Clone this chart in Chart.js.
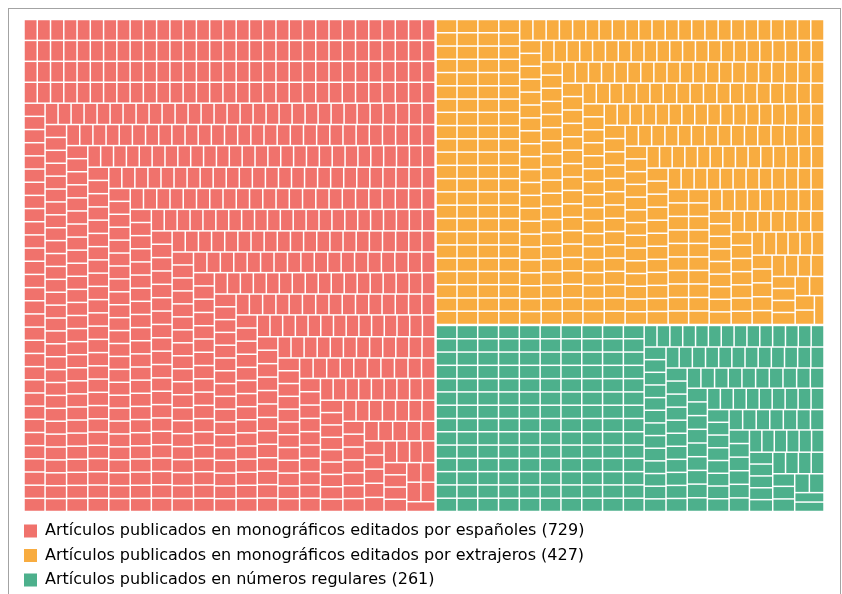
<!DOCTYPE html>
<html>
<head>
<meta charset="utf-8">
<script src="https://cdn.jsdelivr.net/npm/chart.js@4"></script>
<style>
  html, body { margin: 0; padding: 0; background: #fff; overflow: hidden; }
  #chart { position: absolute; left: 0; top: 0; }
  .frame { position: absolute; left: 8px; top: 8px; width: 831px; height: 700px; border: 1px solid #a3a3a3; pointer-events: none; }
</style>
</head>
<body>
<canvas id="chart" width="842" height="598"></canvas>
<div class="frame"></div>
<script>
const categories = [
  "Artículos publicados en monográficos editados por españoles",
  "Artículos publicados en monográficos editados por extrajeros",
  "Artículos publicados en números regulares",
]
const counts = [729, 427, 261]
const colors = ["#f0726c", "#f8ac40", "#4db08c"]

// treemap area in data units
const W = 800
const H = 492
const groupGap = 1
const cellGap = 0.75

const phi = (1 + Math.sqrt(5)) / 2

// same squarify as d3-hierarchy (ratio = golden ratio)
const squarify = (values, x0, y0, x1, y1) => {
  const out = []
  let value = values.reduce((a, b) => a + b, 0)
  let i0 = 0
  let i1 = 0
  while (i0 < values.length) {
    const dx = x1 - x0
    const dy = y1 - y0
    let sum = values[i1++]
    let min = sum
    let max = sum
    const alpha = Math.max(dy / dx, dx / dy) / (value * phi)
    let beta = sum * sum * alpha
    let minRatio = Math.max(max / beta, beta / min)
    for (; i1 < values.length; ++i1) {
      const v = values[i1]
      sum += v
      min = Math.min(min, v)
      max = Math.max(max, v)
      beta = sum * sum * alpha
      const r = Math.max(max / beta, beta / min)
      if (r > minRatio) { sum -= v; break }
      minRatio = r
    }
    const row = values.slice(i0, i1)
    if (dx < dy) {
      const yb = i1 < values.length ? y0 + dy * sum / value : y1
      let xc = x0
      row.forEach(v => { const w = (x1 - x0) * v / sum; out.push([xc, y0, xc + w, yb]); xc += w })
      y0 = yb
    } else {
      const xb = i1 < values.length ? x0 + dx * sum / value : x1
      let yc = y0
      row.forEach(v => { const h = (y1 - y0) * v / sum; out.push([x0, yc, xb, yc + h]); yc += h })
      x0 = xb
    }
    value -= sum
    i0 = i1
  }
  return out
}

const p = groupGap / 2
const groups = squarify(counts, -p, -p, W + p, H + p)
  .map(([a, b, c, d]) => [a + p, b + p, c - p, d - p])

const datasets = groups.map(([gx0, gy0, gx1, gy1], i) => ({
  label: categories[i],
  backgroundColor: colors[i],
  pointRadius: 0,
  data: squarify(new Array(counts[i]).fill(1), gx0, gy0, gx1, gy1)
    .map(([x0, y0, x1, y1]) => ({ x: (x0 + x1) / 2, y: (y0 + y1) / 2, x0, y0, x1, y1 })),
}))

const cellPlugin = {
  id: "cells",
  beforeDatasetsDraw(chart) {
    const { ctx, scales: { x, y } } = chart
    ctx.save()
    chart.data.datasets.forEach(ds => {
      ctx.fillStyle = ds.backgroundColor
      ds.data.forEach(c => {
        const l = x.getPixelForValue(c.x0) + cellGap
        const r = x.getPixelForValue(c.x1) - cellGap
        const t = y.getPixelForValue(c.y0) + cellGap
        const b = y.getPixelForValue(c.y1) - cellGap
        ctx.fillRect(l, t, r - l, b - t)
      })
    })
    ctx.restore()
  },
}

new Chart(document.getElementById("chart"), {
  type: "scatter",
  data: { datasets },
  options: {
    responsive: false,
    animation: false,
    devicePixelRatio: 1,
    layout: { padding: { left: 15.5, right: 18, top: 19.5, bottom: 0 } },
    scales: {
      x: { type: "linear", min: -8.5, max: W, display: false },
      y: { type: "linear", reverse: true, min: 0, max: H + 3, display: false },
    },
    plugins: {
      tooltip: { enabled: false },
      legend: {
        position: "bottom",
        align: "start",
        labels: {
          boxWidth: 13,
          boxHeight: 13,
          padding: 8.5,
          color: "#333",
          font: { family: "DejaVu Sans", size: 16 },
          generateLabels: () => categories.map((c, i) => ({
            text: `${c} (${counts[i]})`,
            fillStyle: colors[i],
            strokeStyle: colors[i],
            lineWidth: 0,
            hidden: false,
            datasetIndex: i,
          })),
        },
      },
    },
  },
  plugins: [cellPlugin],
})
</script>
</body>
</html>
